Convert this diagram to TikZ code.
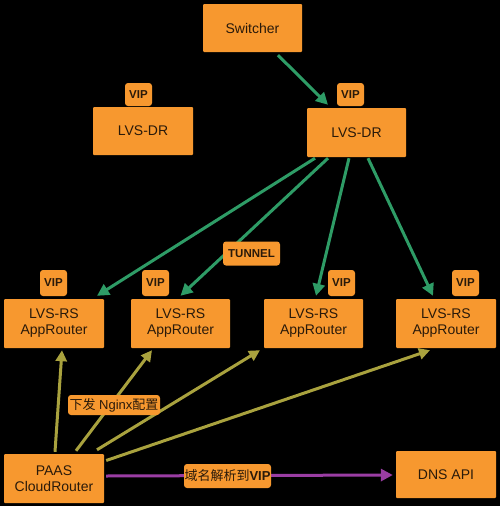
\documentclass[tikz,border=0pt]{standalone}
\usepackage{fontspec}
\setmainfont{Liberation Sans}
\newfontfamily\cjkf{Noto Sans CJK SC}
\usetikzlibrary{calc,arrows.meta}
\definecolor{boxor}{HTML}{F7982F}
\definecolor{txtc}{HTML}{2A1A0A}
\definecolor{grn}{HTML}{2E9C66}
\definecolor{olv}{HTML}{A9A23E}
\definecolor{prp}{HTML}{9A3DA3}
\tikzset{
  box/.style={fill=boxor, text=txtc, inner sep=0pt, align=center, font=\fontsize{14}{16}\selectfont, rounded corners=1pt},
  vip/.style={fill=boxor, text=txtc, inner sep=0pt, font=\bfseries\fontsize{11.5}{13}\selectfont, rounded corners=3pt, minimum width=27pt},
  lbl/.style={fill=boxor, text=txtc, inner sep=0pt, font=\fontsize{13}{15}\selectfont, rounded corners=3pt},
  garr/.style={draw=grn, line width=3pt, -{Triangle[length=12pt,width=12pt]}},
  oarr/.style={draw=olv, line width=3pt, -{Triangle[length=11pt,width=11pt]}},
  parr/.style={draw=prp, line width=3pt, -{Triangle[length=12pt,width=12pt]}},
}
\begin{document}
\begin{tikzpicture}[x=1pt,y=-1pt]
\fill[black] (0,0) rectangle (500,506);
\useasboundingbox (0,0) rectangle (500,506);
% boxes
\node[box, minimum width=99pt, minimum height=48pt] (sw) at (252.5,28) {Switcher};
\node[box, minimum width=100pt, minimum height=48pt] (dl) at (143,131) {LVS-DR};
\node[vip, minimum height=23pt] (vdl) at (138.5,94.5) {VIP};
\node[box, minimum width=99pt, minimum height=49pt] (dr) at (356.5,132.5) {LVS-DR};
\node[vip, minimum height=23pt] (vdr) at (350.5,94.5) {VIP};
\node[box, minimum width=100pt, minimum height=49pt] (rs1) at (54,323.5) {LVS-RS\\AppRouter};
\node[box, minimum width=99pt, minimum height=49pt] (rs2) at (180.5,323.5) {LVS-RS\\AppRouter};
\node[box, minimum width=99pt, minimum height=49pt] (rs3) at (313.5,323.5) {LVS-RS\\AppRouter};
\node[box, minimum width=100pt, minimum height=49pt] (rs4) at (446,323.5) {LVS-RS\\AppRouter};
\node[vip, minimum height=26pt] (v1) at (53.5,283) {VIP};
\node[vip, minimum height=26pt] (v2) at (155.5,283) {VIP};
\node[vip, minimum height=26pt] (v3) at (341.5,283) {VIP};
\node[vip, minimum height=26pt] (v4) at (465.5,283) {VIP};
\node[box, minimum width=100pt, minimum height=49pt] (paas) at (54,478.5) {PAAS\\CloudRouter};
\node[box, minimum width=100pt, minimum height=47pt] (dns) at (446,474.5) {DNS API};
% green arrows
\draw[garr] ($(sw.south)+(25.5,3)$) -- ($(dr.north)+(-28.5,-3)$);
\draw[garr] ($(dr.south)+(-41.5,1)$) -- ($(rs1.north)+(43,-3)$);
\draw[garr] ($(dr.south)+(-28.5,1)$) -- ($(rs2.north)+(0,-3)$);
\draw[garr] ($(dr.south)+(-7.5,1)$) -- ($(rs3.north)+(2.5,-3)$);
\draw[garr] ($(dr.south)+(11.5,1)$) -- ($(rs4.north)+(-13,-3)$);
% olive arrows
\draw[oarr] ($(paas.north)+(1,-2)$) -- ($(rs1.south)+(8,2)$);
\draw[oarr] ($(paas.north)+(22,-3)$) -- ($(rs2.south)+(-28.5,2)$);
\draw[oarr] ($(paas.north)+(43,-4)$) -- ($(rs3.south)+(-53.5,2)$);
\draw[oarr] ($(paas.east)+(2,-18)$) -- ($(rs4.south)+(-16,2)$);
% purple arrow
\draw[parr] ($(paas.east)+(2,-2.5)$) -- ($(dns.west)+(-3,0.5)$);
% labels
\node[lbl, minimum width=57pt, minimum height=24pt, font=\bfseries\fontsize{11.5}{13}\selectfont] (tun) at (251.5,253.5) {TUNNEL};
\node[lbl, minimum width=92pt, minimum height=20pt] (l1) at (114,405) {{\cjkf 下发} Nginx{\cjkf 配置}};
\node[lbl, minimum width=87pt, minimum height=24pt] (l2) at (227.5,476) {{\cjkf 域名解析到}\textbf{VIP}};
\end{tikzpicture}
\end{document}
